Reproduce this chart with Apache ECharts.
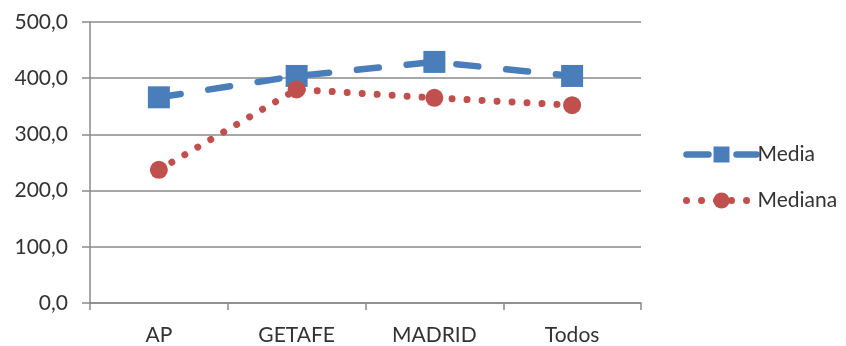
<!DOCTYPE html>
<html><head><meta charset="utf-8">
<script src="https://cdn.jsdelivr.net/npm/echarts@6/dist/echarts.min.js"></script>
<style>html,body{margin:0;padding:0;background:#fff}#c{width:846px;height:346px}</style>
</head><body><div id="c"></div>
<script>
const categories = ['AP', 'GETAFE', 'MADRID', 'Todos'];
const media = [366, 404, 429, 404];
const mediana = [237, 380, 365, 352];
const yTicks = [0, 100, 200, 300, 400, 500];

const font = 'Lato, "Open Sans", sans-serif';
const textColor = '#333333';
const chart = echarts.init(document.getElementById('c'), null, {renderer: 'canvas'});
chart.setOption({
  animation: false,
  backgroundColor: '#fff',
  grid: {left: 90, right: 205, top: 22, bottom: 42, containLabel: false},
  legend: {
    orient: 'vertical', left: 678, top: 139, itemGap: 25,
    itemWidth: 70, itemHeight: 20,
    lineStyle: {width: 'inherit', type: 'inherit'},
    textStyle: {fontFamily: font, fontSize: 21, color: textColor, padding: [0,0,0,-4]},
    data: ['Media', 'Mediana']
  },
  xAxis: {
    type: 'category', data: categories, boundaryGap: true,
    axisLine: {lineStyle: {color: '#8a8a8a', width: 1.5}},
    axisTick: {show: true, length: 7, alignWithLabel: false, lineStyle: {color: '#8a8a8a', width: 1.5}},
    axisLabel: {fontFamily: font, fontSize: 21, color: textColor, margin: 22}
  },
  yAxis: {
    type: 'value', min: yTicks[0], max: yTicks[yTicks.length-1], interval: 100,
    axisLine: {show: true, lineStyle: {color: '#8a8a8a', width: 1.5}},
    axisTick: {show: true, length: 8, lineStyle: {color: '#8a8a8a', width: 1.5}},
    splitLine: {lineStyle: {color: '#8a8a8a', width: 1.5}},
    axisLabel: {fontFamily: font, fontSize: 21, color: textColor, margin: 22,
      formatter: v => v.toFixed(1).replace('.', ',')}
  },
  series: [
    {
      name: 'Media', type: 'line', data: media,
      symbol: 'rect', symbolSize: 22,
      itemStyle: {color: '#4a7ebb'},
      lineStyle: {color: '#4a7ebb', width: 6.5, type: [22, 28], cap: 'round'},
      z: 2
    },
    {
      name: 'Mediana', type: 'line', data: mediana,
      symbol: 'circle', symbolSize: 18,
      itemStyle: {color: '#c0504d'},
      lineStyle: {color: '#c0504d', width: 7, type: [0.01, 15], cap: 'round'},
      z: 3
    }
  ]
});
</script></body></html>
